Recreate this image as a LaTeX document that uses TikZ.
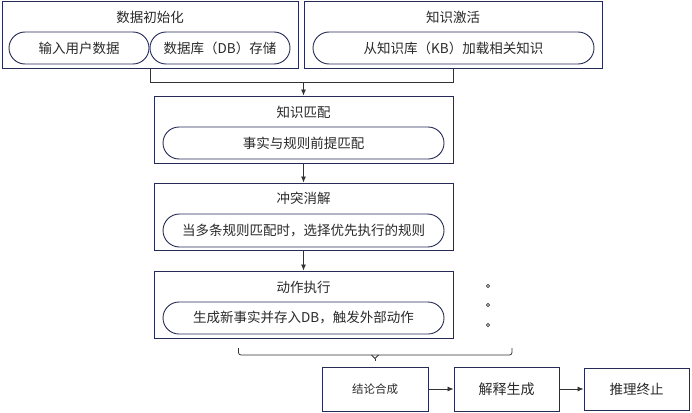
\documentclass[tikz,border=0pt]{standalone}
\usepackage{fontspec}
\setmainfont{Noto Sans CJK SC}
\usetikzlibrary{arrows.meta}
\definecolor{boxc}{HTML}{252B55}
\definecolor{txtc}{HTML}{2A2A2A}
\definecolor{linec}{HTML}{333333}
\tikzset{
  outerbox/.style={draw=boxc, line width=0.9pt, minimum height=67pt, inner sep=0pt},
  pill/.style={draw=boxc, line width=0.9pt, rounded rectangle, minimum height=32pt, inner sep=0pt, text=txtc, font=\fontsize{13.5}{15}\selectfont},
  ttl/.style={text=txtc, font=\fontsize{13.5}{15}\selectfont, inner sep=0pt},
  endbox/.style={draw=boxc, line width=0.9pt, minimum width=105pt, minimum height=44pt, inner sep=0pt, text=txtc},
  conn/.style={draw=linec, line width=0.8pt},
  arr/.style={conn, -{Latex[length=6pt,width=5pt]}},
}
\usetikzlibrary{shapes.misc}
\begin{document}
\begin{tikzpicture}[x=1pt,y=-1pt]
\useasboundingbox (0,0) rectangle (692,412);
\fill[white] (0,0) rectangle (692,412);
% top boxes
\node[outerbox, minimum width=296pt] (b1) at (150,34.5) {};
\node[ttl] (t1) at (150,17) {数据初始化};
\node[pill, minimum width=140pt] (p1) at (79,48) {输入用户数据};
\node[pill, minimum width=140pt] (p2) at (220,48) {数据库（DB）存储};
\node[outerbox, minimum width=298pt] (b2) at (453,34.5) {};
\node[ttl] (t2) at (453,17) {知识激活};
\node[pill, minimum width=281pt] (p3) at (453.5,48) {从知识库（KB）加载相关知识};
% knowledge matching
\node[outerbox, minimum width=299pt] (b3) at (303.5,129.5) {};
\node[ttl] (t3) at (303.5,112) {知识匹配};
\node[pill, minimum width=281pt] (p4) at (303.5,143) {事实与规则前提匹配};
% conflict
\node[outerbox, minimum width=299pt] (b4) at (303.5,216.5) {};
\node[ttl] (t4) at (303.5,198) {冲突消解};
\node[pill, minimum width=281pt, minimum height=33pt] (p5) at (303.5,230.5) {当多条规则匹配时，选择优先执行的规则};
% action
\node[outerbox, minimum width=299pt] (b5) at (303.5,304.5) {};
\node[ttl] (t5) at (303.5,287) {动作执行};
\node[pill, minimum width=281pt] (p6) at (303.5,318) {生成新事实并存入DB，触发外部动作};
% dots
\foreach \yy/\nm in {286/d1,305/d2,325/d3}{
  \draw[linec, line width=0.6pt] (488,\yy) circle (1.6pt);
}
% bottom boxes
\node[endbox, minimum width=106pt, font=\fontsize{11.5}{13}\selectfont] (b6) at (375,389) {结论合成};
\node[endbox, font=\fontsize{14}{16}\selectfont] (b7) at (506.5,389) {解释生成};
\node[endbox, minimum height=42pt, font=\fontsize{13.5}{15}\selectfont] (b8) at (636.5,389) {推理终止};
% connectors
\coordinate (j1) at (150,82);
\coordinate (j2) at (453,82);
\coordinate (jm) at (303.5,82);
\draw[conn] (b1.south -| j1) -- (j1) -- (j2) -- (b2.south -| j2);
\draw[arr] (jm) -- (b3.north);
\draw[arr] (b3.south) -- (b4.north);
\draw[arr] (b4.south) -- (b5.north);
\draw[arr] (b6.east) -- (b7.west);
\draw[arr] (b7.east) -- (b8.west);
% brace
\coordinate (brl) at (238.5,348);
\coordinate (brr) at (512,348);
\coordinate (brt) at (375,361);
\draw[conn, rounded corners=2.5pt] (brl) -- (238.5,355) -- (512,355) -- (brr);
\draw[conn] (371.5,355) -- (375,358.5) -- (378.5,355);
\draw[conn] (375,358.5) -- (brt);
\end{tikzpicture}
\end{document}
